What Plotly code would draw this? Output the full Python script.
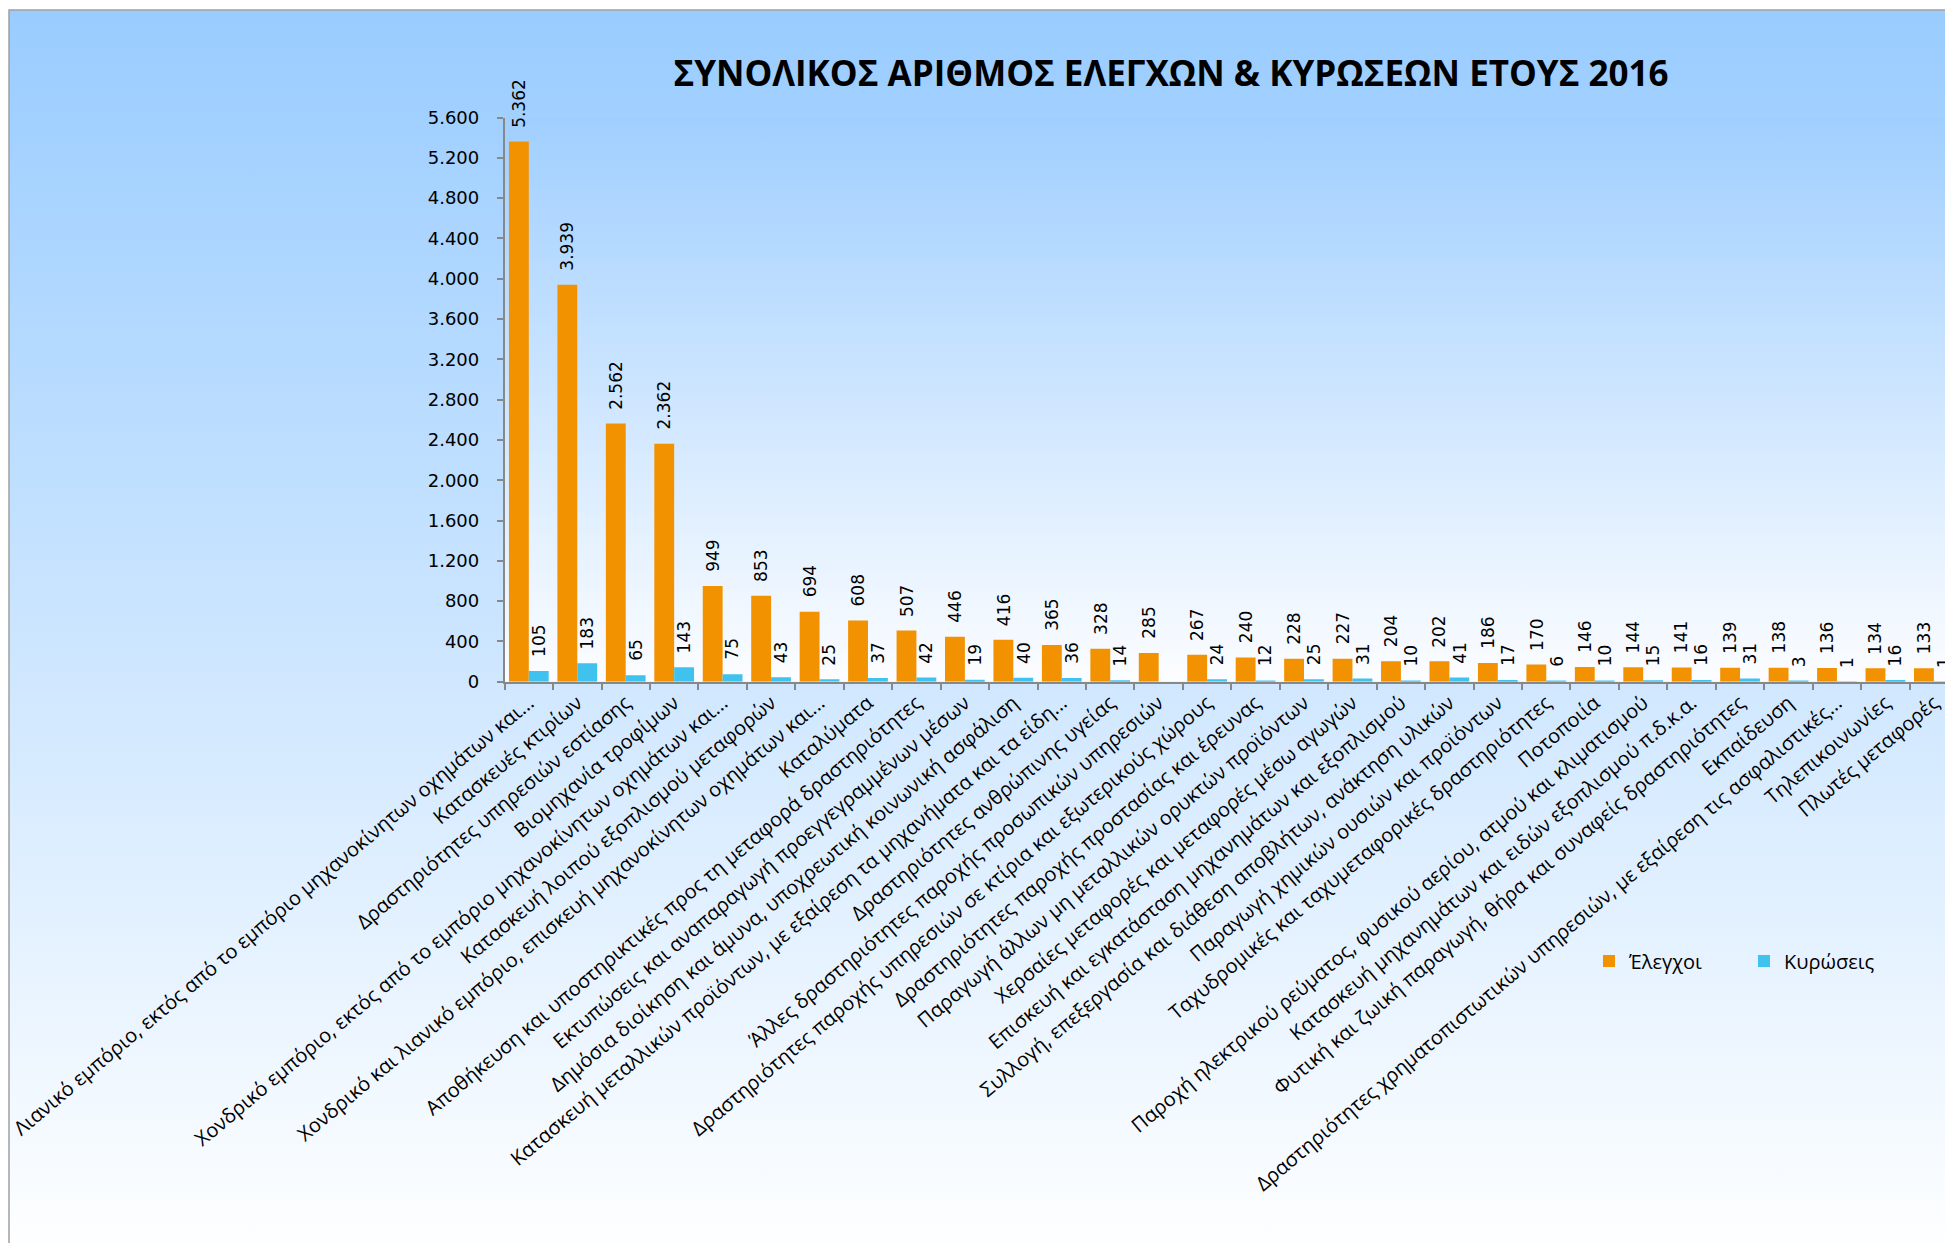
import base64
import plotly.graph_objects as go

# ---------------- data ----------------
categories = [
    "Λιανικό εμπόριο, εκτός από το εμπόριο μηχανοκίνητων οχημάτων και...",
    "Κατασκευές κτιρίων",
    "Δραστηριότητες υπηρεσιών εστίασης",
    "Βιομηχανία τροφίμων",
    "Χονδρικό εμπόριο, εκτός από το εμπόριο μηχανοκίνητων οχημάτων και...",
    "Κατασκευή λοιπού εξοπλισμού μεταφορών",
    "Χονδρικό και λιανικό εμπόριο, επισκευή μηχανοκίνητων οχημάτων και...",
    "Καταλύματα",
    "Αποθήκευση και υποστηρικτικές προς τη μεταφορά δραστηριότητες",
    "Εκτυπώσεις και αναπαραγωγή προεγγεγραμμένων μέσων",
    "Δημόσια διοίκηση και άμυνα, υποχρεωτική κοινωνική ασφάλιση",
    "Κατασκευή μεταλλικών προϊόντων, με εξαίρεση τα μηχανήματα και τα είδη...",
    "Δραστηριότητες ανθρώπινης υγείας",
    "Άλλες δραστηριότητες παροχής προσωπικών υπηρεσιών",
    "Δραστηριότητες παροχής υπηρεσιών σε κτίρια και εξωτερικούς χώρους",
    "Δραστηριότητες παροχής προστασίας και έρευνας",
    "Παραγωγή άλλων μη μεταλλικών ορυκτών προϊόντων",
    "Χερσαίες μεταφορές και μεταφορές μέσω αγωγών",
    "Επισκευή και εγκατάσταση μηχανημάτων και εξοπλισμού",
    "Συλλογή, επεξεργασία και διάθεση αποβλήτων, ανάκτηση υλικών",
    "Παραγωγή χημικών ουσιών και προϊόντων",
    "Ταχυδρομικές και ταχυμεταφορικές δραστηριότητες",
    "Ποτοποιία",
    "Παροχή ηλεκτρικού ρεύματος, φυσικού αερίου, ατμού και κλιματισμού",
    "Κατασκευή μηχανημάτων και ειδών εξοπλισμού π.δ.κ.α.",
    "Φυτική και ζωική παραγωγή, θήρα και συναφείς δραστηριότητες",
    "Εκπαίδευση",
    "Δραστηριότητες χρηματοπιστωτικών υπηρεσιών, με εξαίρεση τις ασφαλιστικές...",
    "Τηλεπικοινωνίες",
    "Πλωτές μεταφορές",
]
elegxoi = [5362, 3939, 2562, 2362, 949, 853, 694, 608, 507, 446, 416, 365, 328, 285,
           267, 240, 228, 227, 204, 202, 186, 170, 146, 144, 141, 139, 138, 136, 134, 133]
kyroseis = [105, 183, 65, 143, 75, 43, 25, 37, 42, 19, 40, 36, 14, None,
            24, 12, 25, 31, 10, 41, 17, 6, 10, 15, 16, 31, 3, 1, 16, 1]
series_names = ["Έλεγχοι", "Κυρώσεις"]
y_ticks = list(range(0, 5601, 400))
title_text = "ΣΥΝΟΛΙΚΟΣ ΑΡΙΘΜΟΣ ΕΛΕΓΧΩΝ & ΚΥΡΩΣΕΩΝ ΕΤΟΥΣ 2016"

# ---------------- layout constants ----------------
W, H = 1945, 1243
PLOT_L, PLOT_R = 504.6, 1945.0
PLOT_T, PLOT_B = 117.5, 681.7
X_RANGE = [-0.5, 29.23]
Y_RANGE = [0, 5600]
BARGAP = 0.18
HALF = (1 - BARGAP) / 4  # offset of each bar centre from category centre

ORANGE = "#F29200"
BLUE = "#40C2EE"
AXIS = "#888888"

svg = f'''<svg xmlns="http://www.w3.org/2000/svg" width="{W}" height="{H}" viewBox="0 0 {W} {H}" preserveAspectRatio="none">
<defs>
<linearGradient id="g1" x1="0" y1="0" x2="0" y2="1">
<stop offset="0" stop-color="#99CCFF"/>
<stop offset="1" stop-color="#FFFFFF"/>
</linearGradient>
<linearGradient id="g2" x1="0" y1="0" x2="0" y2="1">
<stop offset="0" stop-color="#A0CFFF"/>
<stop offset="1" stop-color="#FCFDFF"/>
</linearGradient>
</defs>
<rect x="0" y="0" width="{W}" height="{H}" fill="#FFFFFF"/>
<rect x="9" y="10" width="{W + 10}" height="{H + 10}" fill="url(#g1)" stroke="#A0A0A0" stroke-width="1.5"/>
<rect x="{PLOT_L}" y="{PLOT_T}" width="{PLOT_R - PLOT_L}" height="{PLOT_B - PLOT_T}" fill="url(#g2)"/>
</svg>'''
bg_uri = "data:image/svg+xml;base64," + base64.b64encode(svg.encode("utf-8")).decode("ascii")

fig = go.Figure()
fig.add_trace(go.Bar(x=categories, y=elegxoi, name=series_names[0],
                     marker=dict(color=ORANGE, line=dict(width=0))))
fig.add_trace(go.Bar(x=categories, y=kyroseis, name=series_names[1],
                     marker=dict(color=BLUE, line=dict(width=0))))


def fmt(v):
    return f"{v:,}".replace(",", ".")


annotations = []
for i, (a, b) in enumerate(zip(elegxoi, kyroseis)):
    for val, off in ((a, -HALF), (b, HALF)):
        if val is None:
            continue
        annotations.append(dict(
            x=i + off, y=val, xref="x", yref="y", text=fmt(val),
            textangle=-90, showarrow=False, xanchor="center", yanchor="bottom",
            yshift=12, font=dict(family="DejaVu Sans", size=17, color="#000000"),
        ))

fig.update_layout(
    width=W, height=H,
    margin=dict(l=0, r=0, t=0, b=0, pad=0),
    paper_bgcolor="#FFFFFF",
    plot_bgcolor="rgba(0,0,0,0)",
    separators=",.",
    barmode="group",
    bargap=BARGAP,
    bargroupgap=0,
    images=[dict(source=bg_uri, xref="paper", yref="paper", x=0, y=1,
                 sizex=1, sizey=1, xanchor="left", yanchor="top",
                 sizing="stretch", layer="below")],
    title=dict(text=title_text, x=1171 / W, y=1 - 74 / H, xanchor="center", yanchor="middle",
               font=dict(family="Open Sans", size=35, color="#000000", weight="bold")),
    xaxis=dict(
        domain=[PLOT_L / W, PLOT_R / W], range=X_RANGE, type="category",
        showline=True, linecolor=AXIS, linewidth=1.5,
        ticks="outside", tickson="boundaries", ticklen=7, tickcolor=AXIS, tickwidth=1.5,
        tickangle=-40, tickfont=dict(family="Open Sans", size=20, color="#000000"),
        showgrid=False, zeroline=False, automargin=False, fixedrange=True,
    ),
    yaxis=dict(
        domain=[(H - PLOT_B) / H, (H - PLOT_T) / H], range=Y_RANGE,
        tickvals=y_ticks, tickformat=",d",
        showline=True, linecolor=AXIS, linewidth=1.5,
        ticks="outside", ticklen=6, tickcolor=AXIS, tickwidth=1.5,
        ticklabelstandoff=14,
        tickfont=dict(family="DejaVu Sans", size=18, color="#000000"),
        showgrid=False, zeroline=False, automargin=False, fixedrange=True,
    ),
    legend=dict(orientation="h", x=1589 / W, y=1 - 961 / H, xanchor="left", yanchor="middle",
                font=dict(family="Open Sans", size=20, color="#000000"),
                bgcolor="rgba(0,0,0,0)", entrywidth=110, entrywidthmode="pixels"),
    annotations=annotations,
    showlegend=True,
)

fig.write_html("out.html", config={"displayModeBar": False},
               post_script="document.body.style.margin='0';document.body.style.overflow='hidden';")
